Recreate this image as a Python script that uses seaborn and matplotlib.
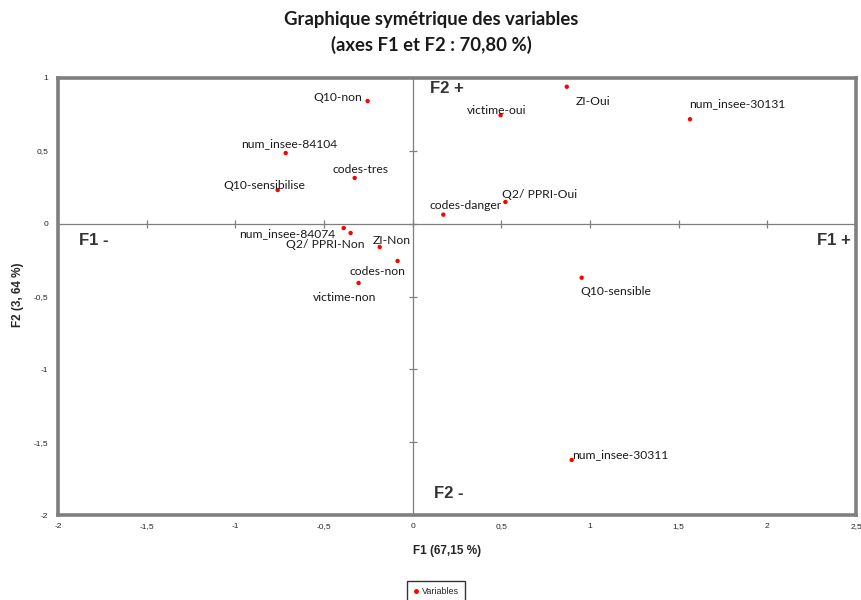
import matplotlib
matplotlib.use("Agg")
import matplotlib.pyplot as plt
import seaborn as sns
import pandas as pd

# Coordinates of the modalities on the first two factorial axes
labels = ["Q10-non", "num_insee-84104", "codes-tres", "Q10-sensibilise",
          "num_insee-84074", "Q2/ PPRI-Non", "ZI-Non", "codes-non", "victime-non",
          "victime-oui", "ZI-Oui", "num_insee-30131", "Q2/ PPRI-Oui",
          "codes-danger", "Q10-sensible", "num_insee-30311"]
f1 = [-0.254, -0.716, -0.327, -0.761, -0.389, -0.350, -0.186, -0.085, -0.305,
      0.496, 0.869, 1.564, 0.523, 0.173, 0.953, 0.897]
f2 = [0.842, 0.485, 0.314, 0.231, -0.030, -0.064, -0.160, -0.256, -0.407,
      0.745, 0.940, 0.717, 0.149, 0.062, -0.371, -1.622]

x_ticks = [-2, -1.5, -1, -0.5, 0, 0.5, 1, 1.5, 2, 2.5]
y_ticks = [-2, -1.5, -1, -0.5, 0, 0.5, 1]

# label placement: (dx, dy) in pixels, horizontal alignment
placement = {
    "Q10-non": (-5, 4, "right"),
    "num_insee-84104": (3, 9, "center"),
    "codes-tres": (6, 8, "center"),
    "Q10-sensibilise": (-13, 5, "center"),
    "num_insee-84074": (-8, -6, "right"),
    "Q2/ PPRI-Non": (-25, -12, "center"),
    "ZI-Non": (-7, 6, "left"),
    "codes-non": (-20, -11, "center"),
    "victime-non": (-14, -15, "center"),
    "victime-oui": (-4, 5, "center"),
    "ZI-Oui": (9, -15, "left"),
    "num_insee-30131": (-1, 16, "left"),
    "Q2/ PPRI-Oui": (-3, 7, "left"),
    "codes-danger": (-14, 9, "left"),
    "Q10-sensible": (-1, -14, "left"),
    "num_insee-30311": (0, 5, "left"),
}

df = pd.DataFrame({"label": labels, "F1": f1, "F2": f2, "serie": "Variables"})

sns.set_theme(style="white")
plt.rcParams["font.family"] = ["Lato", "DejaVu Sans"]
ARIAL = ["Liberation Sans", "DejaVu Sans"]

fig = plt.figure(figsize=(8.62, 6.0), dpi=100)
ax = fig.add_axes([58 / 862, 85 / 600, 798 / 862, 437 / 600])

sns.scatterplot(data=df, x="F1", y="F2", hue="serie", palette=["#ff0000"],
                s=10, edgecolor="none", ax=ax, legend=False, zorder=3)

ax.set_xlim(-2, 2.5)
ax.set_ylim(-2, 1)

# frame
for sp in ax.spines.values():
    sp.set_color("#7f7f7f")
    sp.set_linewidth(2.6)
    sp.set_visible(True)

# axes through the origin with their own tick marks
ax.axhline(0, color="#7f7f7f", lw=0.9, zorder=1)
ax.axvline(0, color="#7f7f7f", lw=0.9, zorder=1)
ax.plot(x_ticks, [0] * len(x_ticks), ls="none", marker="|", ms=6,
        mew=0.9, color="#7f7f7f", zorder=1, clip_on=False)
ax.plot([0] * len(y_ticks), y_ticks, ls="none", marker="_", ms=6,
        mew=0.9, color="#7f7f7f", zorder=1, clip_on=False)


def fmt(v):
    return ("%g" % v).replace(".", ",")


ax.set_xticks(x_ticks)
ax.set_yticks(y_ticks)
ax.set_xticklabels([fmt(v) for v in x_ticks], fontsize=6, family=ARIAL)
ax.set_yticklabels([fmt(v) for v in y_ticks], fontsize=6, family=ARIAL)
ax.tick_params(axis="y", length=0, pad=7)
ax.tick_params(axis="x", length=0, pad=6)

ax.set_xlabel("F1 (67,15 %)", fontsize=8.5, fontweight="bold", family=ARIAL)
ax.set_ylabel("F2 (3, 64 %)", fontsize=8.5, fontweight="bold", family=ARIAL)
ax.xaxis.set_label_coords(0.5 + (447 - 457) / 798, -36 / 437)
ax.yaxis.set_label_coords(-40 / 798, (515 - 295) / 437)
ax.xaxis.label.set_va("center")
ax.yaxis.label.set_va("center")

for lab, x, y in zip(labels, f1, f2):
    dx, dy, ha = placement[lab]
    ax.annotate(lab, (x, y), xytext=(dx, dy), textcoords="offset pixels",
                ha=ha, va="center", fontsize=8.7, color="#1a1a1a", zorder=4)

# quadrant labels
quad = dict(fontsize=12, fontweight="bold", color="#333333", family=ARIAL)
ax.text(0.10, 0.925, "F2 +", va="center", ha="left", **quad)
ax.text(0.12, -1.855, "F2 -", va="center", ha="left", **quad)
ax.text(-1.88, -0.115, "F1 -", va="center", ha="left", **quad)
ax.text(2.47, -0.115, "F1 +", va="center", ha="right", **quad)

fig.text(0.5, 1 - 20 / 600, "Graphique symétrique des variables", ha="center",
         va="center", fontsize=13.3, fontweight="bold", color="#1a1a1a")
fig.text(0.5, 1 - 45 / 600, "(axes F1 et F2 : 70,80 %)", ha="center",
         va="center", fontsize=13.3, fontweight="bold", color="#1a1a1a")

handle = plt.Line2D([], [], ls="none", marker="o", ms=2.5, color="#ff0000")
leg = fig.legend([handle], ["Variables"], loc="upper center",
                 bbox_to_anchor=(436 / 862, 1 - 576 / 600), frameon=True,
                 fancybox=False, handlelength=0.6, handletextpad=0.4,
                 borderpad=0.7, prop={"size": 6.5, "family": ARIAL})
leg.get_frame().set_edgecolor("#000000")
leg.get_frame().set_linewidth(1.0)

fig.savefig("out.png", dpi=100)
